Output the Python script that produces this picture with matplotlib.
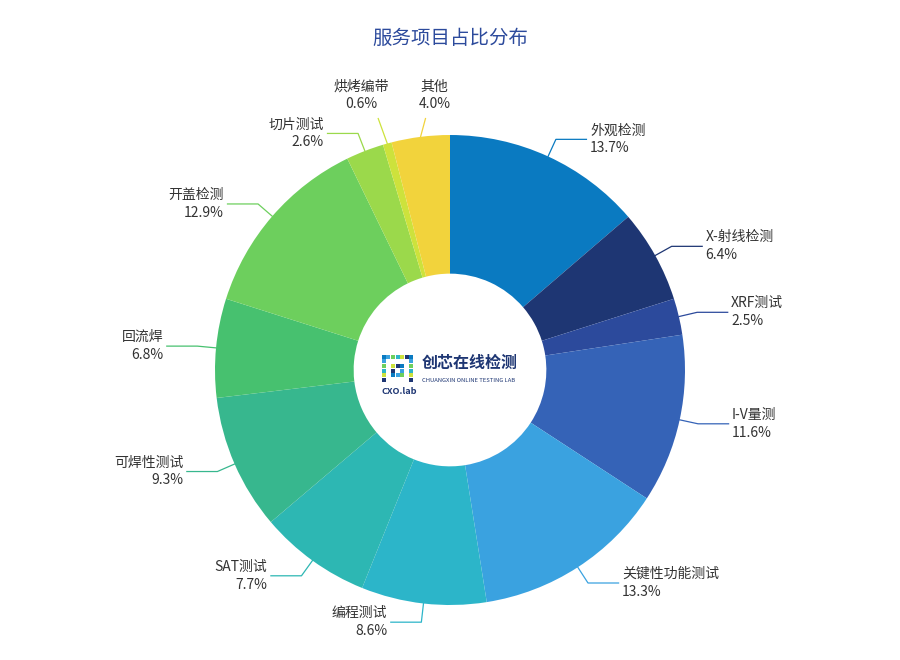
import matplotlib
matplotlib.use("Agg")
import matplotlib.pyplot as plt
import numpy as np
from matplotlib.patches import Rectangle

plt.rcParams['font.family'] = ['Noto Sans CJK SC', 'DejaVu Sans']

categories = ["外观检测", "X-射线检测", "XRF测试", "I-V量测", "关键性功能测试", "编程测试",
              "SAT测试", "可焊性测试", "回流焊", "开盖检测", "切片测试", "烘烤编带", "其他"]
values = [13.7, 6.4, 2.5, 11.6, 13.3, 8.6, 7.7, 9.3, 6.8, 12.9, 2.6, 0.6, 4.0]
colors = ["#0a7ac1", "#1e3673", "#2c4a9c", "#3563b7", "#3aa2e0", "#2cb5c9", "#2db7b3",
          "#37b78e", "#47c16f", "#6dcf5d", "#9bd94b", "#cde23c", "#f2d33c"]

fig = plt.figure(figsize=(9, 6.6), dpi=100)
ax = fig.add_axes([0, 0, 1, 1])
R = 235.0

wedges, _ = ax.pie(values, colors=colors, startangle=90, counterclock=False, radius=1.0,
                   wedgeprops=dict(width=0.59, edgecolor='white', linewidth=0))
ax.set_xlim(-450 / R, 450 / R)
ax.set_ylim(-290 / R, 370 / R)
ax.set_aspect('equal')
ax.axis('off')

# labels placed above the ring (name: x-offset of text centre)
top_labels = {"烘烤编带": -0.11, "其他": 0.06}

total = sum(values)
cum = 0
for i, (name, v) in enumerate(zip(categories, values)):
    mid = cum + v / 2
    cum += v
    ang = np.deg2rad(90 - mid / total * 360)
    x0, y0 = np.cos(ang), np.sin(ang)
    txt = f"{name}\n{v:.1f}%"
    if name in top_labels:
        dx = top_labels[name]
        ex, ey = x0 + dx * 0.35, 1.07
        ax.plot([x0, ex], [y0, ey], color=colors[i], lw=0.9)
        ax.text(x0 + dx, 1.1, txt, ha='center', va='bottom', fontsize=10,
                color='#333333', linespacing=1.35)
        continue
    re = 1.08
    x1, y1 = re * x0, re * y0
    sgn = 1 if x0 >= 0 else -1
    x2 = x1 + sgn * 0.13
    ax.plot([x0, x1, x2], [y0, y1, y1], color=colors[i], lw=0.9)
    ax.text(x2 + sgn * 0.015, y1, txt, ha='left' if sgn > 0 else 'right',
            va='center', fontsize=10, color='#333333', linespacing=1.35)

fig.text(0.5, 1 - 38 / 660, "服务项目占比分布", ha='center', va='center', fontsize=14,
         color='#2c4a9c')

# center logo
rng_colors = ["#0a7ac1", "#3aa2e0", "#6dcf5d", "#2cb5c9", "#cde23c", "#1e3673"]
s = 0.017
bx, by = -0.29, -0.05
pattern = ["1111111", "1000001", "1011101", "1010101", "1011101", "1000001"]
for r_, row in enumerate(pattern):
    for c_, ch in enumerate(row):
        if ch == "1":
            ax.add_patch(Rectangle((bx + c_ * s * 1.15, by + (5 - r_) * s * 1.15), s, s,
                                   color=rng_colors[(r_ + c_) % len(rng_colors)], lw=0))
ax.text(-0.29, -0.09, "CXO.lab", fontsize=6.5, color='#1e3673', fontweight='bold', va='center')
ax.text(-0.12, 0.03, "创芯在线检测", fontsize=11.5, color='#1e3673', fontweight='bold', va='center')
ax.text(-0.12, -0.045, "CHUANGXIN ONLINE TESTING LAB", fontsize=4.2, color='#1e3673', va='center')

fig.savefig("out.png", dpi=100, facecolor='white')
